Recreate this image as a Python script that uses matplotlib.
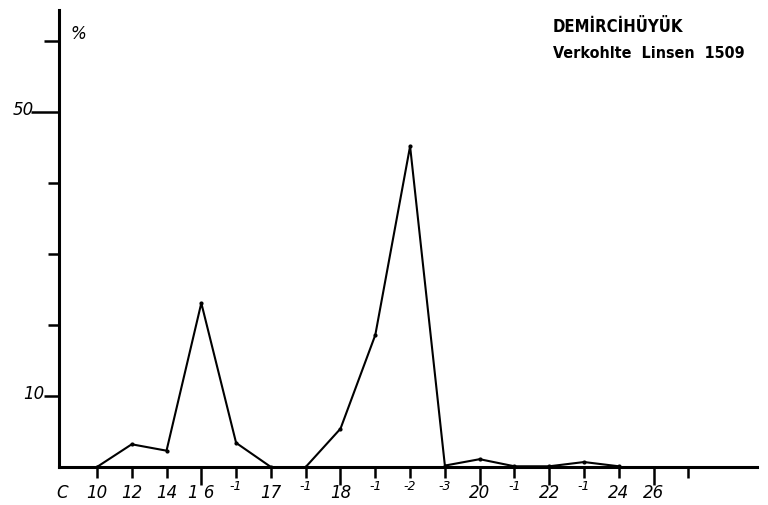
import numpy as np
import matplotlib
matplotlib.use("Agg")
import matplotlib.pyplot as plt

# Fettsaeuren (Kettenlaenge : Doppelbindungen) und Anteile in %
acids = ["10", "12", "14", "16", "16:1", "17", "17:1", "18", "18:1", "18:2",
         "18:3", "20", "20:1", "22", "22:1", "24", "26"]
tick_labels = ["10", "12", "14", "1 6", "-1", "17", "-1", "18", "-1", "-2",
               "-3", "20", "-1", "22", "-1", "24", "26"]
percent_a = [0.0, 3.2, 2.3, 23.1, 3.4, 0.0]             # 10 .. 17
percent_b = [0.0, 5.4, 18.6, 45.2, 0.2, 1.1, 0.1, 0.1,   # 17:1 .. 24
             0.7, 0.1]

fig = plt.figure(figsize=(7.68, 5.05), dpi=100)
ax = fig.add_axes([59 / 768, 38 / 505, 698 / 768, 457 / 505])

x = np.arange(len(acids))
ax.plot(x[:6], percent_a, color="black", lw=1.5, marker=".", ms=4)
ax.plot(x[6:16], percent_b, color="black", lw=1.5, marker=".", ms=4)

ax.set_xlim(-1.09, 18.97)
ax.set_ylim(0, 64.4)
for s in ["top", "right"]:
    ax.spines[s].set_visible(False)
ax.spines["left"].set_linewidth(2.2)
ax.spines["bottom"].set_linewidth(2.2)

# x-Achse: Ticks nach unten, Beschriftung von Hand
ax.set_xticks(list(x) + [17])
ax.set_xticklabels([])
ax.tick_params(axis="x", direction="out", width=1.8, length=8)
for i, t in enumerate(ax.xaxis.get_major_ticks()):
    if i < len(acids) and acids[i] in ("16", "18", "20", "22", "26"):
        t.tick1line.set_markersize(13)

num_font = dict(family="DejaVu Sans", style="italic", fontsize=12)
ax.text(-1.0, -3.6, "C", ha="center", va="center", **num_font)
for i, lab in enumerate(tick_labels):
    if lab.startswith("-"):
        ax.text(i, -2.7, lab, ha="center", va="center", family="DejaVu Sans",
                style="italic", fontsize=9)
    else:
        ax.text(i, -3.6, lab, ha="center", va="center", **num_font)

# y-Achse
ax.set_yticks([10, 20, 30, 40, 50, 60])
ax.set_yticklabels([])
ax.tick_params(axis="y", direction="out", width=1.8, length=8)
for v, t in zip([10, 20, 30, 40, 50, 60], ax.yaxis.get_major_ticks()):
    if v == 50:
        t.tick1line.set_markersize(20)
    elif v in (10, 60):
        t.tick1line.set_markersize(11)
ax.text(-2.12, 50.3, "50", ha="center", va="center", **num_font)
ax.text(-1.8, 10.3, "10", ha="center", va="center", **num_font)
ax.text(-0.54, 61.0, "%", ha="center", va="center", **num_font)

ax.text(13.1, 62.0, "DEMİRCİHÜYÜK", ha="left", va="center",
        family="DejaVu Sans", stretch="condensed", weight="bold", fontsize=12)
ax.text(13.1, 58.3, "Verkohlte  Linsen  1509", ha="left", va="center",
        family="DejaVu Sans", stretch="condensed", weight="bold", fontsize=11.5)

fig.savefig("out.png", dpi=100)
